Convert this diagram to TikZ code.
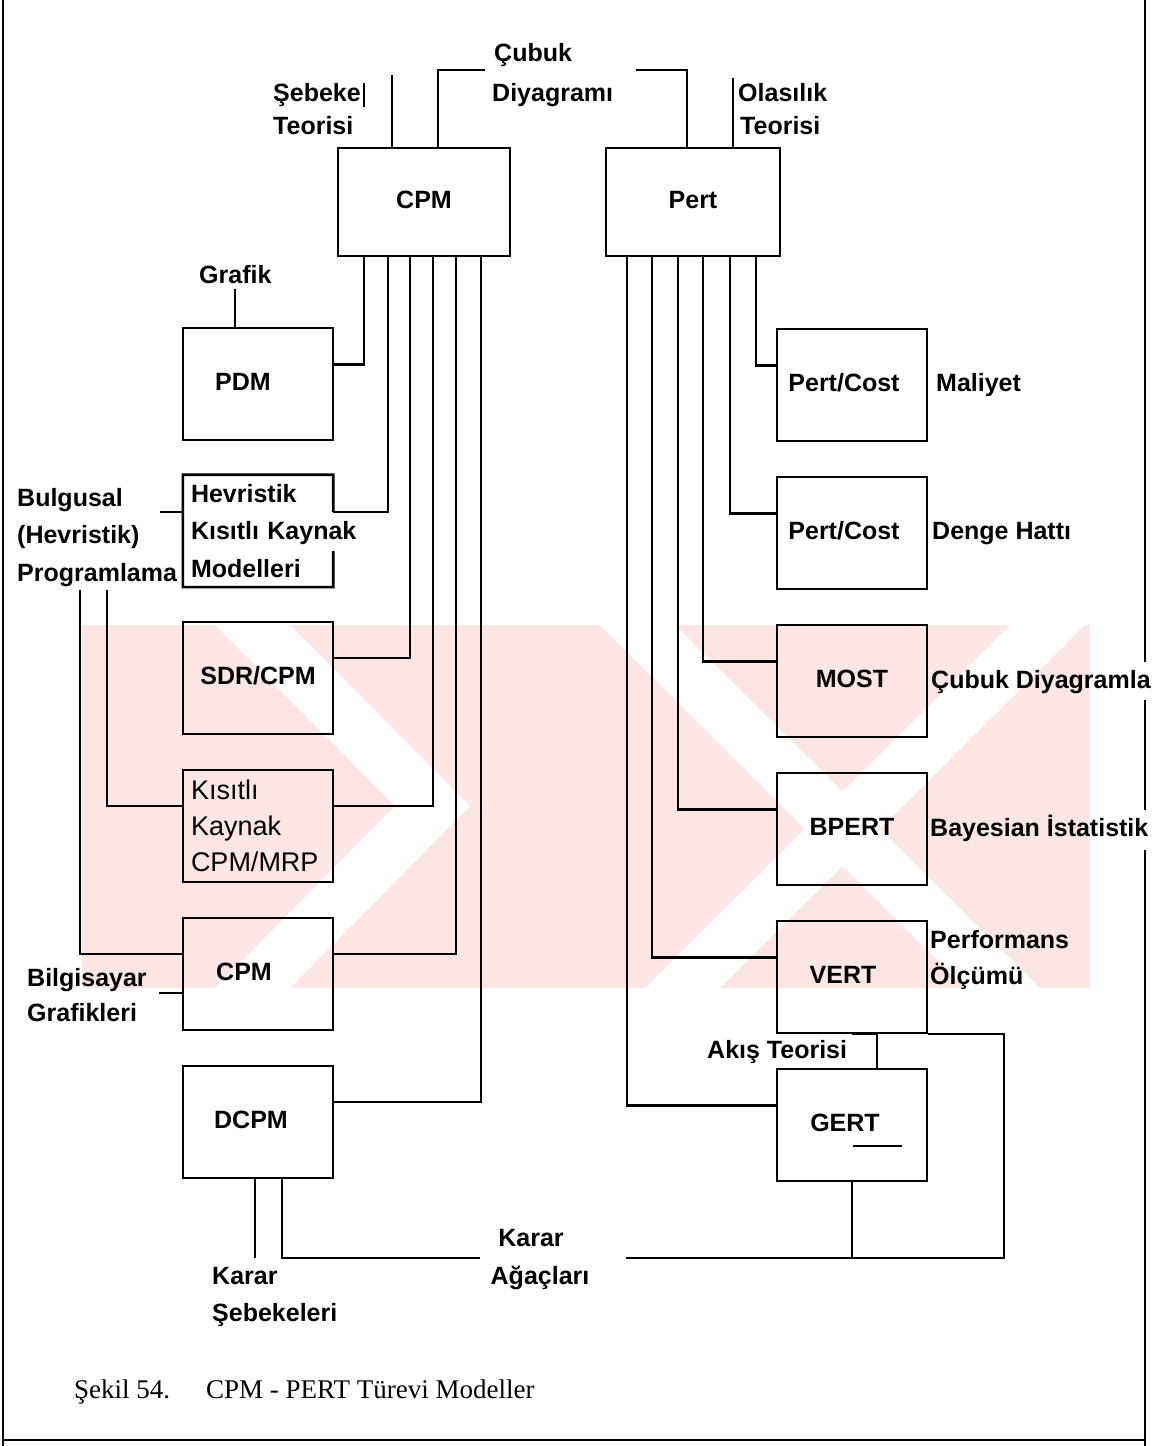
\documentclass[tikz,border=0pt]{standalone}
\usepackage{fontspec}
\setmainfont{Liberation Serif}
\newfontfamily\diagfont{Liberation Sans}
\usetikzlibrary{calc,positioning}
\definecolor{wmpink}{RGB}{251,229,229}
\newcommand{\lblfont}{\diagfont\bfseries\fontsize{25}{30}\selectfont}

\begin{document}
\begin{tikzpicture}[
        x=1pt, y=-1pt,
        node distance=33.4pt,
        box/.style={rectangle, draw, line width=2.6pt, minimum width=150pt, minimum height=112pt, inner sep=0pt, font=\lblfont, text height=18pt, text depth=5pt},
        panel/.style={rectangle, minimum width=150pt, minimum height=112pt, inner xsep=8pt, inner ysep=0pt, text width=134pt, align=left},
        lbl/.style={inner sep=0pt, font=\lblfont, text height=18pt, text depth=5pt},
        multi/.style={inner sep=0pt, align=left, font=\diagfont\bfseries\fontsize{25}{37.5}\selectfont},
        conn/.style={line width=2.2pt},
        edge/.style={line width=2.6pt},
        frame/.style={line width=2pt}
    ]
        \useasboundingbox (0,0) rectangle (1156,1446);
        % watermark in the background
        \fill[wmpink] (82,625) rectangle (1090,988);
        \fill[white] (215,625) -- (290,625) -- (470,806) -- (290,988) -- (215,988) -- (395,806) -- cycle;
        \fill[white] (600,625) -- (675,625) -- (1040,988) -- (965,988) -- cycle;
        \fill[white] (1010,625) -- (1085,625) -- (720,988) -- (645,988) -- cycle;
        % page frame
        \draw[frame] (3,0) -- (3,1446);
        \draw[frame] (1145,0) -- (1145,662) (1145,700) -- (1145,810) (1145,850) -- (1145,1446);
        \draw[frame] (3,1440) -- (1145,1440);

        \node[box, minimum width=172pt, minimum height=108pt] (cpm) at (424,202) {CPM};
        \node[box, minimum width=174pt, minimum height=108pt] (pert) at (693,202) {Pert};

        % CPM side
        \node[box] (pdm) at (258,384) {PDM\hspace*{30pt}};
        \node[panel, below=of pdm, font=\diagfont\bfseries\fontsize{25}{37.5}\selectfont] (hevr) {Hevristik\\\mbox{Kısıtlı Kaynak}\\Modelleri};
        \node[box, below=of hevr] (sdr) {SDR/CPM};
        \node[panel, draw, line width=2.6pt, below=of sdr, font=\diagfont\fontsize{27}{36}\selectfont] (kis) {Kısıtlı\\Kaynak\\CPM/MRP};
        \node[box, below=of kis] (cpm2) {CPM\hspace*{28pt}};
        \node[box, below=of cpm2] (dcpm) {DCPM\hspace*{14pt}};

        % Pert side
        \node[box] (pc1) at (852,385) {Pert/Cost\hspace*{16pt}};
        \node[box, below=of pc1] (pc2) {Pert/Cost\hspace*{16pt}};
        \node[box, below=of pc2] (most) {MOST};
        \node[box, below=of most] (bpert) {BPERT};
        \node[box, below=of bpert] (vert) {VERT\hspace*{18pt}};
        \node[box, below=of vert] (gert) {GERT\hspace*{14pt}};

        % labels
        \node[lbl, anchor=west] (seb) at (273,95) {Şebeke};
        \node[lbl, anchor=west] (sebt) at (273,128) {Teorisi};
        \node[lbl, anchor=west] (cub) at (494,55) {Çubuk};
        \node[lbl, anchor=west] (cubd) at (492,95) {Diyagramı};
        \node[lbl, anchor=west] (ola) at (738,95) {Olasılık};
        \node[lbl, anchor=west] (olat) at (740,128) {Teorisi};
        \node[lbl, anchor=west] (graf) at (199,277) {Grafik};
        \node[multi, anchor=north west] (bulg) at (17,488) {Bulgusal\\(Hevristik)\\Programlama};
        \node[lbl, anchor=west] (bilg) at (27,980) {Bilgisayar};
        \node[lbl, anchor=west] (bilgg) at (27,1015) {Grafikleri};
        \node[lbl, anchor=west] (krs) at (212,1278) {Karar};
        \node[lbl, anchor=west] (krss) at (212,1315) {Şebekeleri};
        \node[lbl] (kra) at (531,1240) {Karar};
        \node[lbl] (kraa) at (540,1278) {Ağaçları};
        \node[lbl, anchor=west] (mal) at (936,385) {Maliyet};
        \node[lbl, anchor=west] (den) at (932,533) {Denge Hattı};
        \node[lbl, anchor=west] (cbd) at (931,682) {Çubuk Diyagramla};
        \node[lbl, anchor=west] (bay) at (930,830) {Bayesian İstatistik};
        \node[lbl, anchor=west] (perf) at (930,942) {Performans};
        \node[lbl, anchor=west] (olc) at (930,978) {Ölçümü};
        \node[lbl, anchor=west] (akis) at (707,1052) {Akış Teorisi};
        \node[anchor=west, inner sep=0pt, font=\fontsize{27}{32}\selectfont] (cap) at (74,1392) {Şekil 54.\hspace{36pt}CPM - PERT Türevi Modeller};

        % open box round the heuristic models
        \draw[edge] ($(hevr.north east)!.33!(hevr.south east)$) -- (hevr.north east) -- (hevr.north west)
            -- (hevr.south west) -- (hevr.south east) -- ($(hevr.north east)!.68!(hevr.south east)$);

        % top connectors
        \coordinate (sbt) at (392,75);
        \coordinate (cbl) at (485,70);
        \coordinate (cbr) at (636,70);
        \coordinate (olt) at (733,78);
        \draw[conn] ([xshift=3pt]seb.north east) -- ([xshift=3pt]seb.south east);
        \draw[conn] (sbt) -- (sbt |- cpm.north);
        \draw[conn] (cbl) -| ($(cpm.north)+(14,0)$);
        \draw[conn] (cbr) -| ($(pert.north)+(-6,0)$);
        \draw[conn] (olt) -- (olt |- pert.north);

        % CPM feeders
        \draw[conn] ([xshift=-60pt]cpm.south) |- ($(pdm.north east)!.33!(pdm.south east)$);
        \draw[conn] ([xshift=-36pt]cpm.south) |- ($(hevr.north east)!.33!(hevr.south east)$);
        \draw[conn] ([xshift=-14pt]cpm.south) |- ($(sdr.north east)!.33!(sdr.south east)$);
        \draw[conn] ([xshift=9pt]cpm.south) |- ($(kis.north east)!.33!(kis.south east)$);
        \draw[conn] ([xshift=32pt]cpm.south) |- ($(cpm2.north east)!.33!(cpm2.south east)$);
        \draw[conn] ([xshift=57pt]cpm.south) |- ($(dcpm.north east)!.33!(dcpm.south east)$);

        % Pert feeders
        \draw[conn] ([xshift=63pt]pert.south) |- ($(pc1.north west)!.33!(pc1.south west)$);
        \draw[conn] ([xshift=37pt]pert.south) |- ($(pc2.north west)!.33!(pc2.south west)$);
        \draw[conn] ([xshift=10pt]pert.south) |- ($(most.north west)!.33!(most.south west)$);
        \draw[conn] ([xshift=-15pt]pert.south) |- ($(bpert.north west)!.33!(bpert.south west)$);
        \draw[conn] ([xshift=-41pt]pert.south) |- ($(vert.north west)!.33!(vert.south west)$);
        \draw[conn] ([xshift=-66pt]pert.south) |- ($(gert.north west)!.33!(gert.south west)$);

        % side links
        \coordinate (pg1) at (107,590);
        \coordinate (pg2) at (80,590);
        \draw[conn] (graf.south) -- (graf.south |- pdm.north);
        \draw[conn] ($(hevr.north west)!.33!(hevr.south west)$) -- ++(-23,0);
        \draw[conn] (pg1) |- ($(kis.north west)!.33!(kis.south west)$);
        \draw[conn] (pg2) |- ($(cpm2.north west)!.33!(cpm2.south west)$);
        \draw[conn] ($(cpm2.north west)!.67!(cpm2.south west)$) -- ++(-23,0);

        % decision trees at the bottom
        \coordinate (kr0) at (255,1258);
        \coordinate (kr1) at (480,1258);
        \coordinate (kr2) at (626,1258);
        \draw[conn] (kr0 |- dcpm.south) -- (kr0);
        \draw[conn] ([xshift=24pt]dcpm.south) |- (kr1);
        \draw[conn] (kr2) -| ($(vert.south east)+(76,0)$) -- (vert.south east);
        \draw[conn] (gert.south) -- (gert.south |- kr2);
        \draw[conn] ($(gert.north)+(25,0)$) |- (vert.south);
        \draw[conn] ($(gert.center)+(1,21)$) -- ++(49,0);
    \end{tikzpicture}
\end{document}
